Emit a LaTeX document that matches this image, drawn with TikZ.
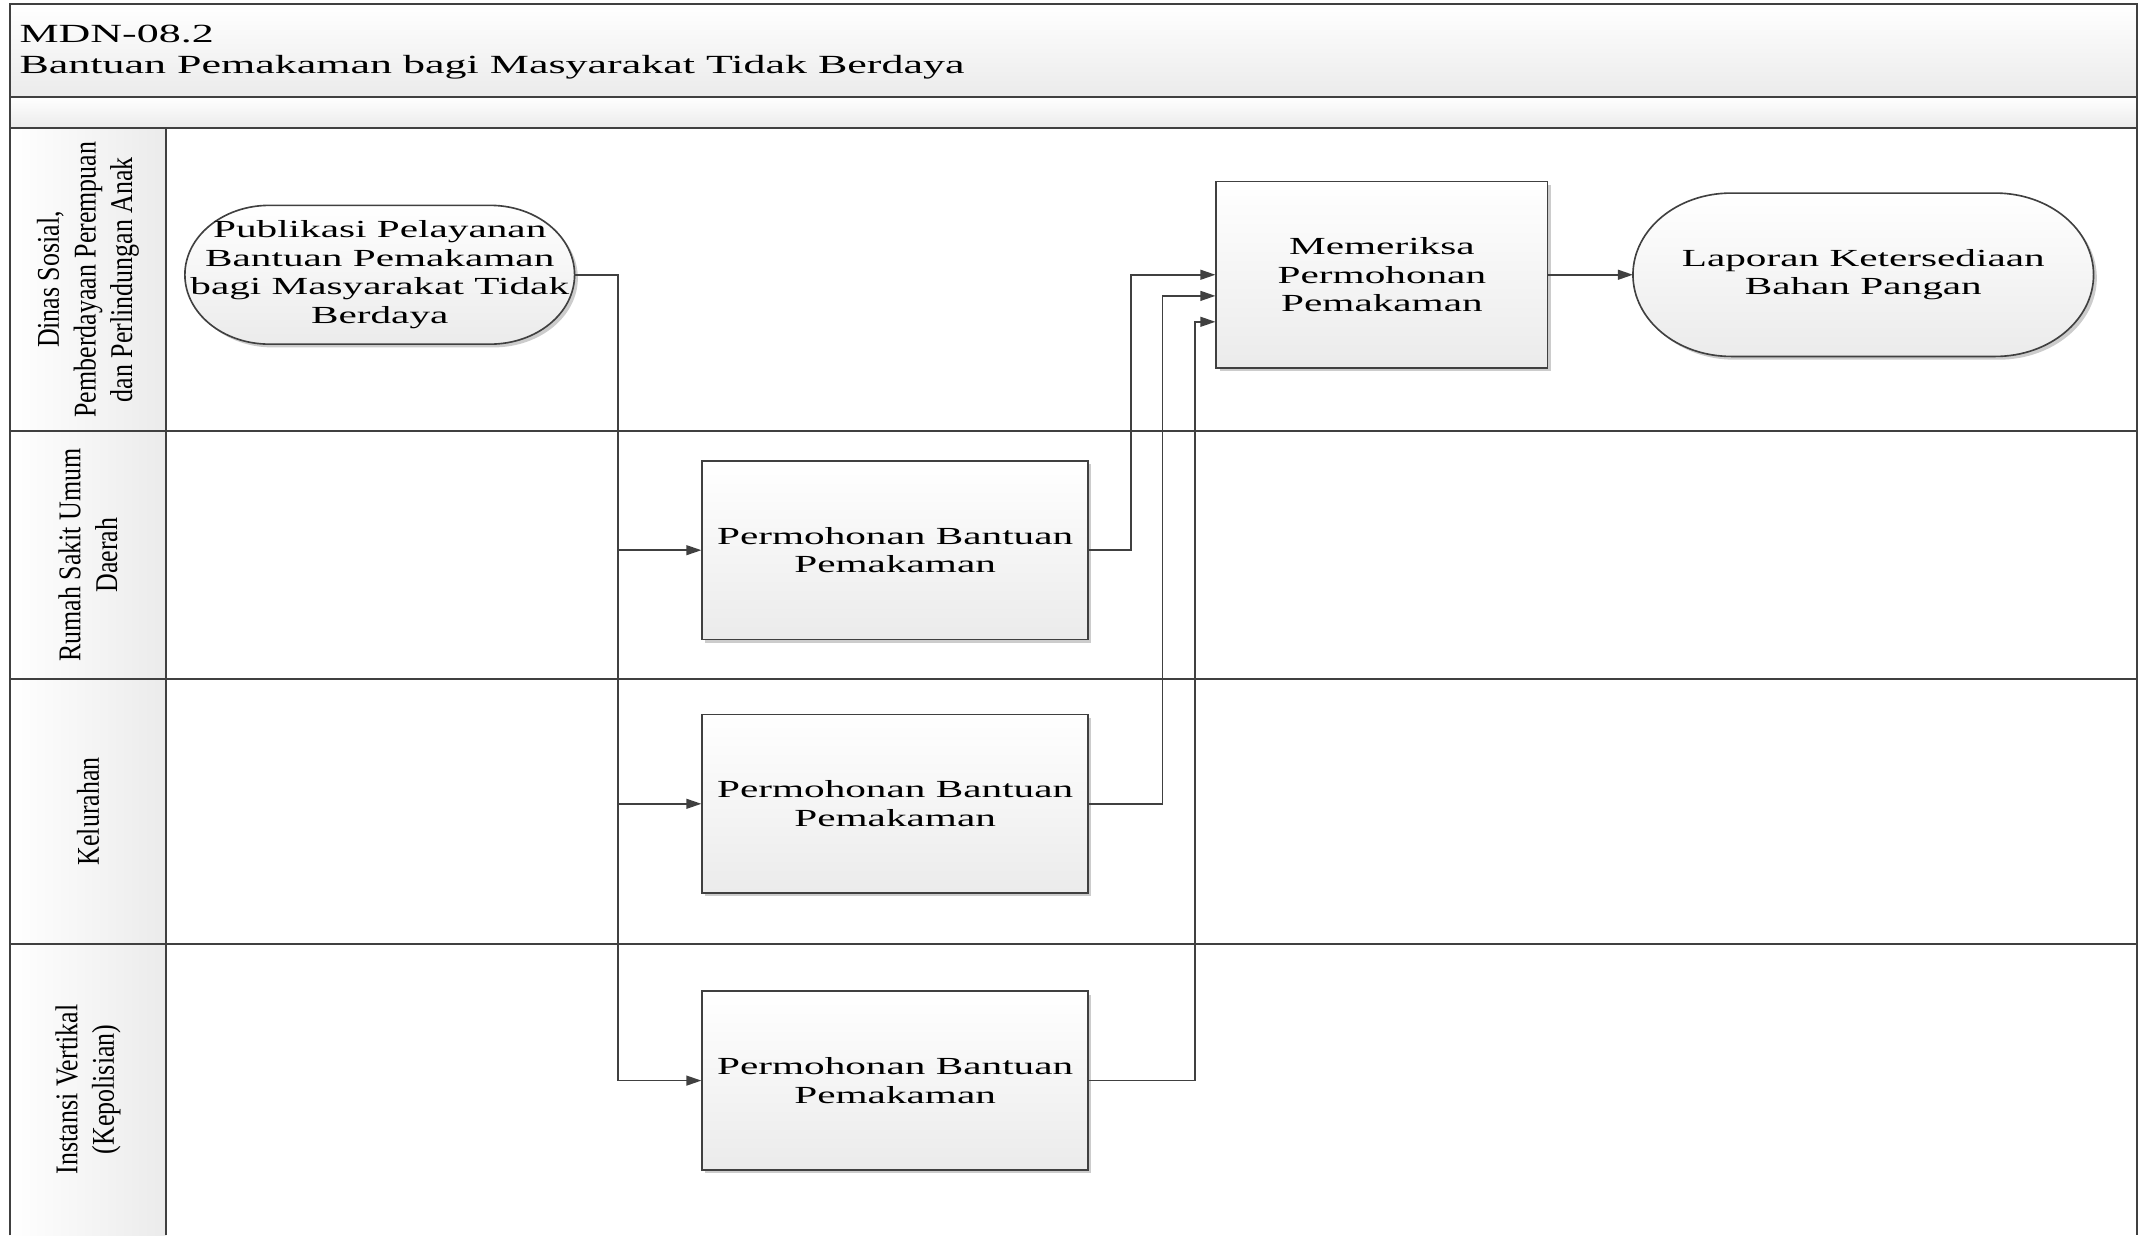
\documentclass[tikz,border=0pt]{standalone}
\usepackage{fontspec}
\setmainfont{Liberation Serif}[FakeStretch=1.68]
\newfontfamily\lajurfont{Liberation Serif}[FakeStretch=0.82]
\usetikzlibrary{positioning,calc,arrows.meta,shadows,backgrounds}
\definecolor{Garis}{HTML}{404040}
\definecolor{Isi}{HTML}{EBEBEB}
\tikzset{
  garis/.style={draw=Garis, line width=0.75pt},
  bingkai/.style={draw=Garis, line width=0.6pt, top color=white, bottom color=Isi,
    drop shadow={shadow xshift=1.2pt, shadow yshift=-1.2pt, fill=black, opacity=0.2}},
  teks/.style={align=center, inner sep=1pt, font=\fontsize{9}{10.5}\selectfont},
  proses/.style={bingkai, teks, rectangle, minimum width=141.5pt, minimum height=65.5pt},
  terminal/.style={teks, rectangle},
  lajur/.style={rotate=90, align=center, inner sep=0pt, font=\lajurfont\fontsize{11.6}{13.4}\selectfont},
  alur/.style={draw=Garis, line width=0.6pt, -{Triangle[length=5.5pt,width=3.6pt]}}
}
% outline of a terminal: #1 node, #2 horizontal radius of the ends
\newcommand{\ujung}[2]{%
  \path[bingkai] let \p1=(#1.north west), \p2=(#1.south east), \n1={(\y1-\y2)/2} in
    ({\x1+#2},\y1) -- ({\x2-#2},\y1)
    arc[start angle=90, end angle=-90, x radius=#2, y radius=\n1]
    -- ({\x1+#2},\y2)
    arc[start angle=270, end angle=90, x radius=#2, y radius=\n1] -- cycle;}

\begin{document}
\begin{tikzpicture}[x=0.5pt,y=0.5pt]
  \useasboundingbox (0,0) rectangle (1568,-906);
  \shade[top color=white, bottom color=Isi] (7,-3) rectangle (1567,-71);
  \shade[top color=white, bottom color=Isi] (7,-71) rectangle (1567,-94);
  \node[anchor=base west, inner sep=0pt, font=\fontsize{9.6}{11.5}\selectfont] (kode) at (14,-31) {MDN-08.2};
  \node[anchor=base west, inner sep=0pt, font=\fontsize{9.6}{11.5}\selectfont] (judul) at (14,-54) {Bantuan Pemakaman bagi Masyarakat Tidak Berdaya};
  \foreach \nama/\atas/\bawah [count=\i] in {{Dinas Sosial,\\Pemberdayaan Perempuan\\dan Perlindungan Anak}/94/316, {Rumah Sakit Umum\\Daerah}/316/498, Kelurahan/498/692, {Instansi Vertikal\\(Kepolisian)}/692/906}{
    \shade[left color=white, right color=Isi] (7,-\atas) rectangle (122,-\bawah);
    \draw[garis] (7,-\atas) -- (1567,-\atas);
    \node[lajur] (lajur\i) at (64.5,{-(\atas+\bawah)/2}) {\nama};
  }
  \draw[garis] (7,-71) -- (1567,-71);
  \draw[garis] (122,-94) -- (122,-906);
  \draw[garis] (7,-906) -- (7,-3) -- (1567,-3) -- (1567,-906);

  \node[terminal, minimum width=142.5pt, minimum height=50.5pt] (pub) at (278.5,-201.5) {Publikasi Pelayanan\\Bantuan Pemakaman\\bagi Masyarakat Tidak\\Berdaya};
  \node[proses, minimum width=121.5pt, minimum height=68.5pt] (periksa) at (1013.5,-201.5) {Memeriksa\\Permohonan\\Pemakaman};
  \node[terminal, minimum width=168.5pt, minimum height=59.5pt] (laporan) at (1366.5,-201.5) {Laporan Ketersediaan\\Bahan Pangan};
  \node[proses] (rsud) at (656.5,-403.5) {Permohonan Bantuan\\Pemakaman};
  \node[proses] (kel) at (656.5,-589.5) {Permohonan Bantuan\\Pemakaman};
  \node[proses] (polisi) at (656.5,-792.5) {Permohonan Bantuan\\Pemakaman};
  \begin{scope}[on background layer]
    \ujung{pub}{31pt}
    \ujung{laporan}{36pt}
  \end{scope}

  \coordinate (cabang) at (453,-201.5);
  \foreach \tuju in {rsud,kel,polisi}
    \draw[alur] (pub.east) -| (cabang |- \tuju.west) -- (\tuju.west);
  \draw[alur] (rsud.east) -- ++(31,0) |- (periksa.west);
  \draw[alur] (kel.east) -- ++(54,0) |- ([yshift=-7.75pt]periksa.west);
  \draw[alur] (polisi.east) -- ++(78,0) |- ([yshift=-17.25pt]periksa.west);
  \draw[alur] (periksa) -- (laporan);
\end{tikzpicture}
\end{document}
